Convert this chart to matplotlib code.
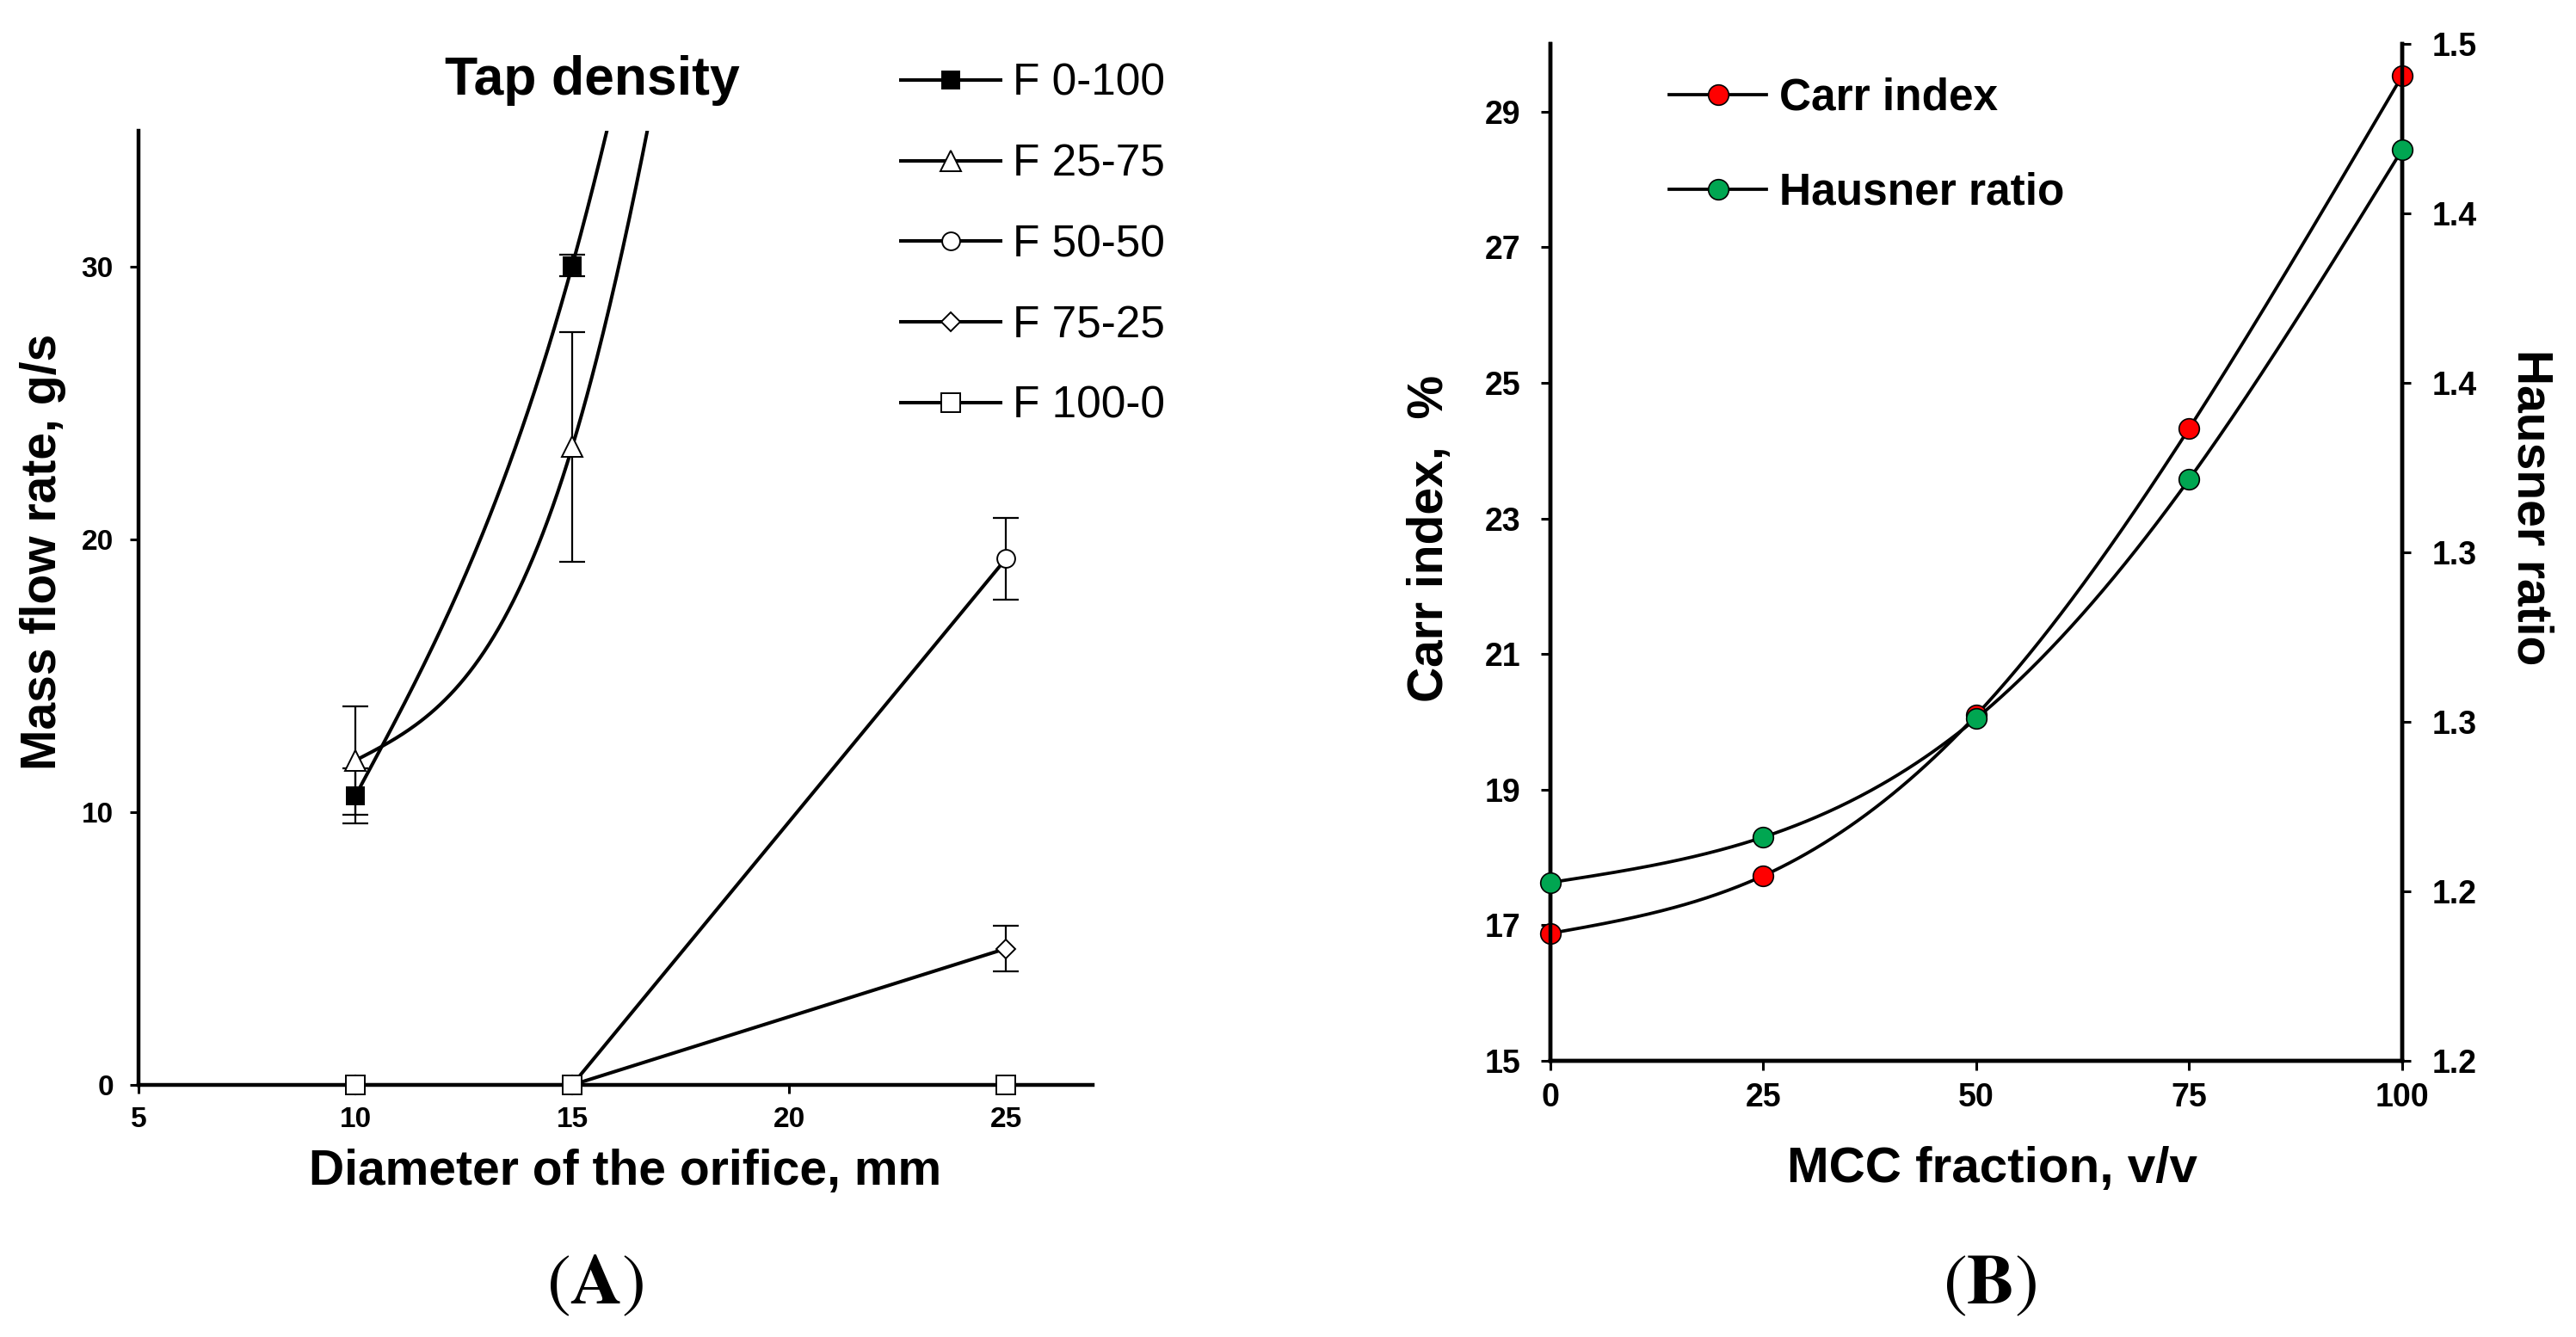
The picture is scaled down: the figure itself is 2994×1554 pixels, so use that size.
import numpy as np
import matplotlib
matplotlib.use('Agg')
import matplotlib.pyplot as plt
from matplotlib.lines import Line2D

plt.rcParams['font.family'] = ['Liberation Sans', 'DejaVu Sans']
plt.rcParams['mathtext.fontset'] = 'stix'

# ---- panel A: mass flow rate vs orifice diameter ----
diameters = [10, 15, 25]
series_names = ['F 0-100', 'F 25-75', 'F 50-50', 'F 75-25', 'F 100-0']
# last points of the first two mixtures lie far above the plotted range
flow_0_100 = [10.6, 30.05, 125.0]
flow_25_75 = [11.9, 23.4, 135.0]
flow_50_50 = [0.0, 0.0, 19.3]
flow_75_25 = [0.0, 0.0, 5.0]
flow_100_0 = [0.0, 0.0, 0.0]
err_0_100 = [1.0, 0.4, 0.0]
err_25_75 = [2.0, 4.2, 0.0]
err_50_50 = [0.0, 0.0, 1.5]
err_75_25 = [0.0, 0.0, 0.85]
err_100_0 = [0.0, 0.0, 0.0]

# ---- panel B: Carr index and Hausner ratio vs MCC fraction ----
mcc_fraction = [0, 25, 50, 75, 100]
carr_index = [16.88, 17.73, 20.1, 24.33, 29.53]
hausner_ratio = [1.2526, 1.266, 1.301, 1.3716, 1.4688]
hausner_ticks = [1.20, 1.25, 1.30, 1.35, 1.40, 1.45, 1.50]
hausner_tick_labels = ['1.2', '1.2', '1.3', '1.3', '1.4', '1.4', '1.5']


def natural_spline(x, y, n=400):
    x = np.asarray(x, float)
    y = np.asarray(y, float)
    k = len(x)
    h = np.diff(x)
    A = np.zeros((k, k))
    r = np.zeros(k)
    A[0, 0] = A[-1, -1] = 1
    for i in range(1, k - 1):
        A[i, i - 1] = h[i - 1]
        A[i, i] = 2 * (h[i - 1] + h[i])
        A[i, i + 1] = h[i]
        r[i] = 6 * ((y[i + 1] - y[i]) / h[i] - (y[i] - y[i - 1]) / h[i - 1])
    M = np.linalg.solve(A, r)
    xs = np.linspace(x[0], x[-1], n)
    idx = np.clip(np.searchsorted(x, xs) - 1, 0, k - 2)
    x0, x1 = x[idx], x[idx + 1]
    hh = x1 - x0
    ys = (M[idx] * (x1 - xs) ** 3 + M[idx + 1] * (xs - x0) ** 3) / (6 * hh) \
        + (y[idx] / hh - M[idx] * hh / 6) * (x1 - xs) \
        + (y[idx + 1] / hh - M[idx + 1] * hh / 6) * (xs - x0)
    return xs, ys


fig = plt.figure(figsize=(29.94, 15.54), dpi=100)
fig.patch.set_facecolor('white')

LW = 2.9
SPINE_LW = 3.2

# ---------------- panel A ----------------
ax = fig.add_axes([0.05377, 0.18855, 0.3704, 0.7137])
flows = [flow_0_100, flow_25_75, flow_50_50, flow_75_25, flow_100_0]
errs = [err_0_100, err_25_75, err_50_50, err_75_25, err_100_0]
markers = ['s', '^', 'o', 'D', 's']
faces = ['black', 'white', 'white', 'white', 'white']
sizes = [15, 17, 15, 11, 15.5]
smooth = [True, True, False, False, False]

handles = []
for name, y, e, m, fc, ms, sm in zip(series_names, flows, errs, markers, faces, sizes, smooth):
    if sm:
        xs, ys = natural_spline(diameters, y)
    else:
        xs, ys = diameters, y
    ax.plot(xs, ys, color='black', lw=LW, zorder=2, solid_capstyle='butt')
    e = np.asarray(e)
    keep = e > 0
    if keep.any():
        ax.errorbar(np.asarray(diameters)[keep], np.asarray(y)[keep], yerr=e[keep],
                    fmt='none', ecolor='black', elinewidth=1.6, capsize=11,
                    capthick=1.6, zorder=3)
    ax.plot(diameters, y, linestyle='none', marker=m, ms=ms, mfc=fc, mec='black',
            mew=1.4, zorder=4, clip_on=False)
    handles.append(Line2D([], [], color='black', lw=LW, marker=m, ms=ms, mfc=fc,
                          mec='black', mew=1.4))

ax.set_xlim(5, 27)
ax.set_ylim(0, 35)
ax.set_xticks([5, 10, 15, 20, 25])
ax.set_yticks([0, 10, 20, 30])
for s in ['top', 'right']:
    ax.spines[s].set_visible(False)
for s in ['left', 'bottom']:
    ax.spines[s].set_linewidth(SPINE_LW)
ax.tick_params(axis='both', direction='out', length=7, width=2.2, labelsize=24)
ax.tick_params(axis='y', pad=14)
ax.tick_params(axis='x', pad=11)
for lab in ax.get_xticklabels() + ax.get_yticklabels():
    lab.set_fontweight('bold')

ax.set_title('Tap density', fontsize=45, fontweight='bold', x=0.476, y=1.0379, pad=0)
ax.set_xlabel('Diameter of the orifice, mm', fontsize=41, fontweight='bold', va='baseline')
ax.xaxis.set_label_coords(0.510, -0.1046)
ax.set_ylabel('Mass flow rate, g/s', fontsize=41, fontweight='bold', va='center')
ax.yaxis.set_label_coords(-0.100, 0.559)

fig.legend(handles, series_names, loc='upper left', bbox_to_anchor=(0.3497, 0.9531),
           bbox_transform=fig.transFigure, frameon=False, fontsize=37,
           handlelength=2.26, handletextpad=0.27, labelspacing=0.87,
           borderpad=0, borderaxespad=0)

# ---------------- panel B ----------------
axb = fig.add_axes([0.60187, 0.20656, 0.33066, 0.76062])
axh = axb.twinx()

xs, ys = natural_spline(mcc_fraction, carr_index)
axb.plot(xs, ys, color='black', lw=2.7, zorder=2)
axb.plot(mcc_fraction, carr_index, linestyle='none', marker='o', ms=17,
         mfc='#FF0000', mec='black', mew=1.2, zorder=3, clip_on=False)

xs, ys = natural_spline(mcc_fraction, hausner_ratio)
axh.plot(xs, ys, color='black', lw=2.7, zorder=2)
axh.plot(mcc_fraction, hausner_ratio, linestyle='none', marker='o', ms=17,
         mfc='#00A651', mec='black', mew=1.2, zorder=3, clip_on=False)

axb.set_xlim(0, 100)
axb.set_ylim(15, 30)
axh.set_ylim(1.2, 1.5)
axb.set_xticks(mcc_fraction)
axb.set_yticks(np.arange(15, 30, 2))
axh.set_yticks(hausner_ticks)
axh.set_yticklabels(hausner_tick_labels)

for a in (axb, axh):
    a.spines['top'].set_visible(False)
    for s in ['left', 'bottom', 'right']:
        a.spines[s].set_linewidth(SPINE_LW)
axb.tick_params(axis='both', direction='out', length=8, width=2.2, labelsize=27)
axb.tick_params(axis='y', pad=17)
axb.tick_params(axis='x', pad=10)
axh.tick_params(axis='y', direction='out', length=7, width=2.2, labelsize=27, pad=18)
for lab in axb.get_xticklabels() + axb.get_yticklabels() + axh.get_yticklabels():
    lab.set_fontweight('bold')

axb.set_xlabel('MCC fraction, v/v', fontsize=42, fontweight='bold', va='baseline')
axb.xaxis.set_label_coords(0.519, -0.1193)
axb.set_ylabel('Carr index,  %', fontsize=41, fontweight='bold', va='center')
axb.yaxis.set_label_coords(-0.1414, 0.5135)
axh.set_ylabel('Hausner ratio', fontsize=41, fontweight='bold', rotation=270, va='center')
axh.yaxis.set_label_coords(1.1515, 0.544)

leg_handles = [
    Line2D([], [], color='black', lw=2.7, marker='o', ms=17, mfc='#FF0000', mec='black', mew=1.2),
    Line2D([], [], color='black', lw=2.7, marker='o', ms=17, mfc='#00A651', mec='black', mew=1.2),
]
fig.legend(leg_handles, ['Carr index', 'Hausner ratio'], loc='upper left',
           bbox_to_anchor=(0.648, 0.9421), bbox_transform=fig.transFigure,
           frameon=False, prop={'size': 37, 'weight': 'bold'},
           handlelength=2.2, handletextpad=0.29, labelspacing=1.18,
           borderpad=0, borderaxespad=0)

# panel letters
fig.text(692 / 2994, 1 - 1515 / 1554, r'$(\mathbf{A})$', fontsize=60, ha='center', va='baseline')
fig.text(2313 / 2994, 1 - 1515 / 1554, r'$(\mathbf{B})$', fontsize=60, ha='center', va='baseline')

fig.savefig('out.png', dpi=100, facecolor='white')
